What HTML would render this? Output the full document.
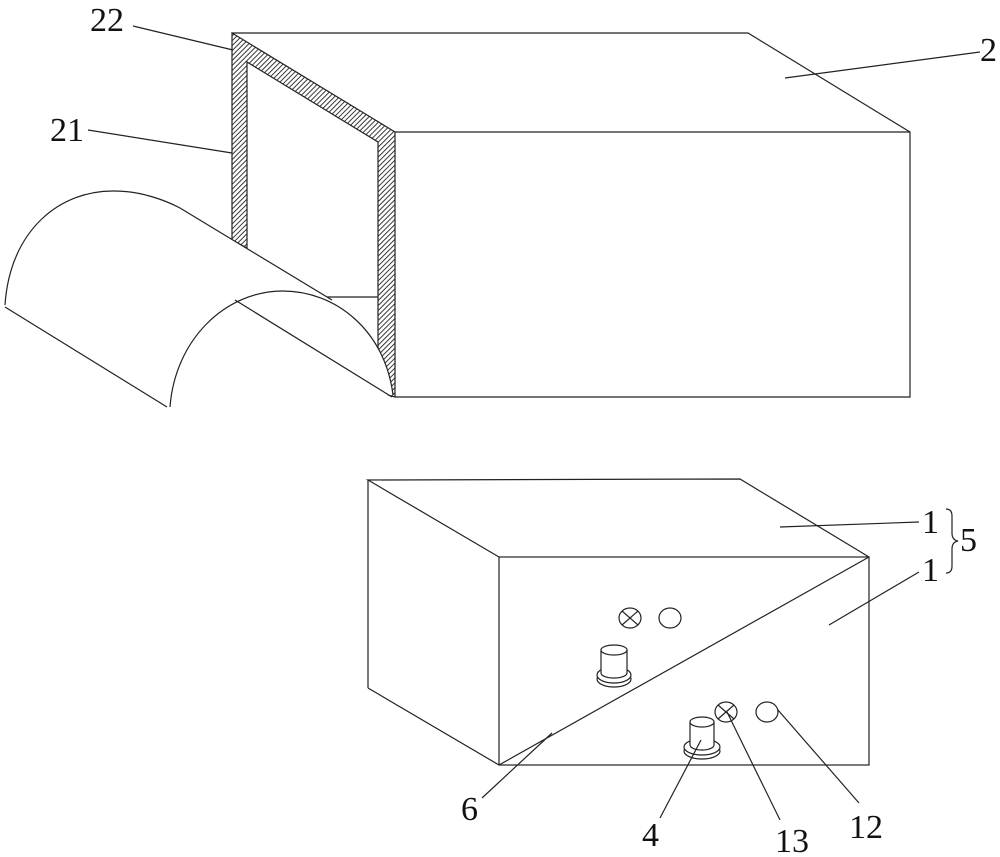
<!DOCTYPE html>
<html><head><meta charset="utf-8"><style>html,body{margin:0;padding:0;background:#fff}svg{display:block}text{font-family:"Liberation Serif",serif;font-size:34px;fill:#111}</style></head><body>
<svg width="1000" height="857" viewBox="0 0 1000 857" xmlns="http://www.w3.org/2000/svg">
<defs><pattern id="h" width="3.5" height="3.5" patternUnits="userSpaceOnUse" patternTransform="rotate(45)"><rect width="4" height="4" fill="#fff"/><line x1="0" y1="0" x2="0" y2="4" stroke="#222" stroke-width="1.8"/></pattern></defs>
<g fill="none" stroke="#222" stroke-width="1.2">
<!-- top box -->
<polyline points="232,33 748,33 910,132 910,397 395,397"/>
<line x1="395" y1="132" x2="910" y2="132"/>
<path d="M232,33 L395,132 L395,397 L378,392 L378,142 L247,62 L247,248 L232,240 Z" fill="url(#h)"/>
<line x1="327" y1="297" x2="378" y2="297"/>
<!-- arches -->
<path d="M5,305 C10,230 60,190 115,191 C140,191 165,200 180,208 L332,300" fill="#fff"/>
<path d="M5,307 L167,407"/>
<path d="M170,407 C175,340 225,291 283,291 C335,291 385,330 393,395" fill="#fff"/>
<line x1="235" y1="300" x2="392" y2="397"/>
<!-- bottom box -->
<polyline points="499,557 368,480 740,479 869,557"/>
<line x1="368" y1="480" x2="368" y2="688"/>
<line x1="368" y1="688" x2="499" y2="765"/>
<rect x="499" y="557" width="370" height="208"/>
<line x1="869" y1="557" x2="499" y2="765"/>
<!-- indicators -->
<ellipse cx="630" cy="618" rx="11" ry="10"/><line x1="622" y1="611" x2="638" y2="625"/><line x1="638" y1="611" x2="622" y2="625"/>
<ellipse cx="670" cy="618" rx="11" ry="10"/>
<ellipse cx="726" cy="712" rx="11" ry="10"/><line x1="718" y1="705" x2="734" y2="719"/><line x1="734" y1="705" x2="718" y2="719"/>
<ellipse cx="767" cy="712" rx="11" ry="10"/>
<!-- knobs -->
<ellipse cx="614" cy="679" rx="17" ry="8"/><ellipse cx="614" cy="675" rx="17" ry="8" fill="#fff"/>
<path d="M601,650 L601,673 A13,5 0 0 0 627,673 L627,650" fill="#fff"/><ellipse cx="614" cy="650" rx="13" ry="5" fill="#fff"/>
<ellipse cx="702" cy="751" rx="18" ry="8"/><ellipse cx="702" cy="747" rx="18" ry="8" fill="#fff"/>
<path d="M690,722 L690,745 A12,5 0 0 0 714,745 L714,722" fill="#fff"/><ellipse cx="702" cy="722" rx="12" ry="5" fill="#fff"/>
<!-- leaders -->
<line x1="133" y1="26" x2="233" y2="50"/>
<line x1="88" y1="130" x2="232" y2="153"/>
<line x1="785" y1="78" x2="980" y2="52"/>
<line x1="780" y1="527" x2="919" y2="522"/>
<line x1="919" y1="572" x2="829" y2="625"/>
<line x1="482" y1="798" x2="552" y2="733"/>
<line x1="660" y1="818" x2="701" y2="740"/>
<line x1="780" y1="820" x2="727" y2="712"/>
<line x1="859" y1="803" x2="778" y2="710"/>
<path d="M946,509 Q952,509 952,516 L952,533 Q952,540 958,541 Q952,542 952,549 L952,566 Q952,573 946,573"/>
</g>
<text x="90" y="31">22</text>
<text x="50" y="141">21</text>
<text x="980" y="61">2</text>
<text x="922" y="533">1</text>
<text x="960" y="551">5</text>
<text x="922" y="581">1</text>
<text x="461" y="820">6</text>
<text x="642" y="846">4</text>
<text x="775" y="852">13</text>
<text x="849" y="838">12</text>
</svg>
</body></html>
